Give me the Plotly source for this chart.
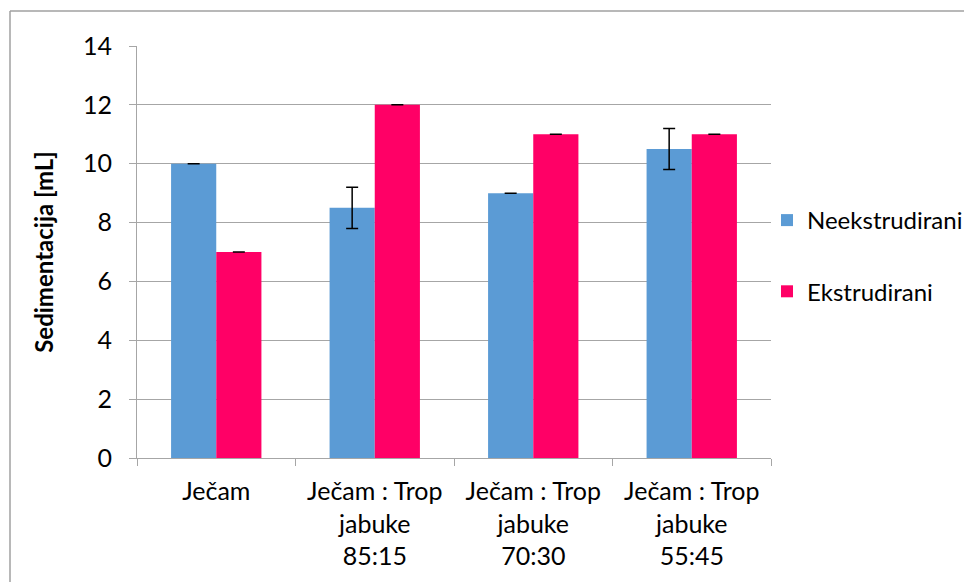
import plotly.graph_objects as go

categories = ["Ječam", "Ječam : Trop<br>jabuke<br>85:15", "Ječam : Trop<br>jabuke<br>70:30", "Ječam : Trop<br>jabuke<br>55:45"]
neekstrudirani = [10, 8.5, 9, 10.5]
neekstrudirani_err = [0, 0.7, 0, 0.7]
ekstrudirani = [7, 12, 11, 11]
ekstrudirani_err = [0, 0, 0, 0]
y_ticks = [0, 2, 4, 6, 8, 10, 12, 14]

FONT = "Lato"
GRID = "#A6A6A6"
OFF = 8  # page body margin
W, H = 972 - OFF, 582 - OFF
L, R, T, B = 137 - OFF, 201, 46 - OFF, 124
pw, ph = W - L - R, H - T - B

fig = go.Figure()
fig.add_trace(go.Bar(
    name="Neekstrudirani", x=categories, y=neekstrudirani, legendgroup="a",
    marker=dict(color="#5B9BD5", line=dict(width=0)),
    error_y=dict(type="data", array=neekstrudirani_err, visible=True, color="#000000", thickness=1.5, width=6),
))
fig.add_trace(go.Bar(
    name="Ekstrudirani", x=categories, y=ekstrudirani, legendgroup="b",
    marker=dict(color="#FF0066", line=dict(width=0)),
    error_y=dict(type="data", array=ekstrudirani_err, visible=True, color="#000000", thickness=1.5, width=6),
))

fig.update_layout(
    width=W, height=H,
    margin=dict(l=L, r=R, t=T, b=B, pad=0, autoexpand=False),
    paper_bgcolor="white", plot_bgcolor="white",
    barmode="group", bargap=0.43, bargroupgap=0,
    font=dict(family=FONT, size=25, color="#000000"),
    legend=dict(xref="container", yref="container",
                x=(767 - OFF) / W, xanchor="left",
                y=1 - (256 - OFF) / H, yanchor="middle",
                font=dict(family=FONT, size=24), itemwidth=30,
                traceorder="grouped", tracegroupgap=37,
                bgcolor="rgba(0,0,0,0)"),
    xaxis=dict(showgrid=False, showline=True, linecolor=GRID, linewidth=1,
               ticks="outside", tickson="boundaries", ticklen=7, tickcolor=GRID,
               tickfont=dict(family=FONT, size=25), ticklabelstandoff=11),
    yaxis=dict(range=[0, 14], tickvals=y_ticks, showgrid=True, gridcolor=GRID, gridwidth=1,
               showline=True, linecolor=GRID, linewidth=1, zeroline=False,
               ticks="outside", ticklen=7, tickcolor=GRID,
               tickfont=dict(family=FONT, size=25), ticklabelstandoff=12,
               title=dict(text="<b>Sedimentacija [mL]</b>", font=dict(family=FONT, size=24), standoff=22)),
    shapes=[
        dict(type="line", xref="paper", yref="paper",
             x0=(10 - 137) / pw, x1=(W + 40 - L) / pw,
             y0=(458 - 11) / ph, y1=(458 - 11) / ph,
             line=dict(color="#A0A0A0", width=1.5)),
        dict(type="line", xref="paper", yref="paper",
             x0=(10 - 137) / pw, x1=(10 - 137) / pw,
             y0=(458 - 11) / ph, y1=-0.4,
             line=dict(color="#A0A0A0", width=1.5)),
    ],
)

fig.write_html("out.html")
